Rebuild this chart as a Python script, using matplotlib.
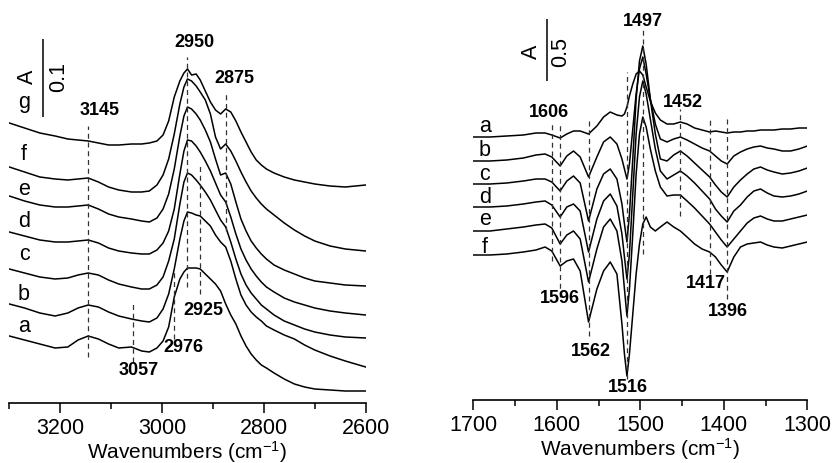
import numpy as np
import matplotlib.pyplot as plt

plt.rcParams['font.family'] = ['Liberation Sans', 'DejaVu Sans']
plt.rcParams['mathtext.default'] = 'regular'

# ---- left panel: C-H stretching region (offset absorbance, a.u.; 78 a.u. = 0.1 A)
wn_left = [3300, 3270, 3240, 3210, 3185, 3165, 3145, 3125, 3105, 3085, 3060, 3040, 3025,
           3010, 2998, 2987, 2976, 2965, 2957, 2950, 2942, 2933, 2925, 2915, 2905, 2895,
           2885, 2875, 2865, 2855, 2845, 2835, 2825, 2815, 2805, 2795, 2780, 2760, 2740,
           2720, 2700, 2670, 2640, 2600]
left_a = [67, 63, 59, 55, 56, 63, 67, 64, 59, 55, 56, 52, 51, 55, 62, 76, 106, 124, 131, 135,
          135, 135, 134, 129, 124, 119, 112, 99, 88, 79, 67, 57, 49, 43, 38, 35, 30, 24, 19,
          16, 14, 13, 12, 12]
left_b = [99, 95, 90, 87, 90, 95, 98, 96, 91, 87, 84, 82, 81, 85, 94, 109, 134, 164, 182, 191,
          190, 188, 187, 182, 177, 168, 161, 156, 142, 124, 108, 98, 91, 86, 82, 77, 73, 68,
          64, 58, 53, 47, 42, 36]
left_c = [134, 130, 126, 124, 125, 128, 130, 128, 123, 119, 116, 114, 114, 118, 126, 142, 164,
          199, 221, 230, 228, 223, 218, 211, 203, 193, 183, 176, 161, 144, 129, 118, 110, 104,
          98, 94, 88, 82, 78, 74, 71, 68, 66, 65]
left_d = [171, 167, 163, 161, 161, 162, 163, 160, 155, 152, 150, 149, 149, 153, 160, 172, 194,
          229, 252, 263, 262, 257, 251, 242, 232, 220, 208, 201, 186, 169, 154, 143, 134, 127,
          121, 116, 111, 105, 101, 98, 95, 92, 90, 88]
left_e = [207, 202, 198, 196, 196, 197, 198, 194, 189, 186, 184, 182, 181, 185, 194, 209, 234,
          267, 287, 296, 294, 289, 283, 273, 261, 244, 228, 230, 219, 201, 184, 172, 162, 155,
          149, 144, 138, 133, 129, 125, 122, 120, 118, 117]
left_f = [236, 231, 226, 224, 223, 224, 225, 221, 216, 213, 211, 211, 212, 218, 228, 244, 269,
          299, 316, 324, 322, 317, 311, 303, 289, 266, 254, 259, 252, 242, 231, 221, 212, 205,
          199, 194, 188, 180, 173, 167, 162, 157, 154, 152]
left_g = [280, 275, 270, 267, 264, 263, 262, 260, 258, 258, 259, 259, 260, 262, 268, 282, 306,
          322, 330, 334, 328, 329, 323, 312, 301, 293, 289, 294, 291, 282, 271, 261, 251, 243,
          238, 234, 230, 226, 223, 221, 219, 217, 216, 218]
left_names = ['a', 'b', 'c', 'd', 'e', 'f', 'g']
left_label_y = [72, 104, 144, 177, 209, 244, 296]

# marked bands: position, dashed line from/to, label position
left_bands = [3145, 2950, 2875, 2925, 2976, 3057]
left_band_lo = [46, 116, 172, 109, 64, 41]
left_band_hi = [277, 346, 309, 239, 134, 99]
left_text_x = [3122, 2937, 2857, 2918, 2959, 3045]
left_text_y = [294, 362, 326, 94, 57, 34]

# ---- right panel: ring / CH3 deformation region (62 a.u. = 0.5 A)
wn_right = [1700, 1680, 1660, 1640, 1625, 1614, 1606, 1596, 1588, 1580, 1572, 1562, 1552,
            1544, 1536, 1528, 1522, 1519, 1516, 1513, 1509, 1505, 1501, 1497, 1493, 1488,
            1482, 1476, 1468, 1460, 1452, 1444, 1435, 1426, 1417, 1410, 1403, 1396, 1388,
            1380, 1372, 1364, 1356, 1348, 1340, 1330, 1320, 1310, 1300]
right_a = [263, 263, 264, 265, 267, 267, 265, 262, 266, 269, 269, 266, 274, 283, 288, 285,
           284, 286, 293, 304, 316, 326, 329, 325, 313, 299, 287, 280, 276, 276, 278, 276,
           272, 270, 268, 269, 268, 267, 268, 268, 269, 269, 270, 270, 270, 271, 271, 272, 272]
right_b = [239, 239, 240, 242, 245, 246, 243, 234, 244, 249, 243, 223, 243, 258, 263, 256,
           241, 231, 221, 236, 271, 306, 331, 343, 326, 301, 276, 261, 258, 261, 263, 260,
           256, 252, 249, 244, 239, 236, 244, 248, 251, 253, 254, 252, 251, 249, 249, 251, 254]
right_c = [216, 216, 217, 219, 221, 221, 218, 209, 219, 224, 217, 179, 211, 226, 231, 221,
           196, 176, 158, 186, 241, 301, 339, 354, 336, 301, 266, 241, 239, 245, 249, 244,
           237, 230, 223, 215, 208, 203, 213, 220, 226, 231, 233, 230, 228, 226, 227, 229, 232]
right_d = [193, 193, 194, 196, 198, 199, 195, 183, 193, 196, 189, 148, 181, 199, 206, 194,
           166, 143, 121, 146, 206, 266, 303, 319, 306, 281, 251, 229, 221, 225, 229, 224,
           217, 209, 201, 191, 184, 178, 189, 195, 203, 209, 211, 207, 204, 203, 204, 206, 209]
right_e = [169, 169, 171, 173, 175, 176, 172, 156, 165, 169, 161, 118, 151, 173, 181, 169,
           139, 111, 84, 111, 166, 226, 266, 283, 273, 251, 229, 213, 204, 205, 205, 199,
           192, 184, 176, 168, 160, 153, 161, 169, 177, 182, 184, 181, 179, 179, 181, 183, 185]
right_f = [145, 145, 146, 148, 150, 153, 149, 134, 139, 141, 129, 78, 111, 129, 138, 126,
           76, 46, 24, 46, 86, 126, 156, 176, 183, 173, 169, 173, 178, 173, 169, 163,
           156, 151, 148, 143, 135, 128, 143, 153, 156, 157, 158, 155, 153, 152, 154, 156, 158]
right_names = ['a', 'b', 'c', 'd', 'e', 'f']
right_label_y = [269, 245, 221, 198, 176, 148]

right_bands = [1606, 1596, 1562, 1516, 1497, 1452, 1417, 1396]
right_band_lo = [139, 103, 64, 21, 146, 184, 126, 101]
right_band_hi = [276, 276, 281, 328, 371, 291, 283, 283]
right_text_x = [1610, 1596, 1559, 1515, 1497, 1449, 1422, 1395]
right_text_y = [288, 102, 49, 13, 379, 298, 117, 89]
right_text = ['1606', '1596', '1562', '1516', '1497', '1452', '1417', '1396']

fig = plt.figure(figsize=(8.33, 4.64), dpi=100)
ax1 = fig.add_axes([0.01116, 0.12931, 0.42785, 0.87069])
ax2 = fig.add_axes([0.56819, 0.13578, 0.40096, 0.86422])

dash = (0, (4, 3))


def style(ax, xlim, ylim, major, minor):
    ax.set_xlim(*xlim)
    ax.set_ylim(*ylim)
    for s in ['left', 'right', 'top']:
        ax.spines[s].set_visible(False)
    ax.spines['bottom'].set_linewidth(1.2)
    ax.set_yticks([])
    ax.set_xticks(major)
    ax.set_xticks(minor, minor=True)
    ax.tick_params(axis='x', which='major', length=7, width=1.1, labelsize=15.5, pad=3)
    ax.tick_params(axis='x', which='minor', length=4, width=1.1)
    ax.set_xlabel('Wavenumbers (cm$^{-1}$)', fontsize=15, labelpad=0)
    ax.patch.set_visible(False)


# left panel
for name, ys, ly in zip(left_names, [left_a, left_b, left_c, left_d, left_e, left_f, left_g],
                        left_label_y):
    ax1.plot(wn_left, ys, color='black', lw=1.1)
    ax1.text(3271, ly, name, fontsize=15.5, ha='center', va='baseline')
ax1.vlines(left_bands, left_band_lo, left_band_hi, colors='#333333', lw=0.9, linestyles=dash)
for b, tx, ty in zip(left_bands, left_text_x, left_text_y):
    ax1.text(tx, ty, str(b), fontsize=13, fontweight='bold', ha='center', va='center')
ax1.vlines(3234, 286, 364, colors='black', lw=1.1)
ax1.text(3265, 327, 'A', fontsize=15.5, rotation=90, ha='center', va='center')
ax1.text(3204, 327, '0.1', fontsize=15.5, rotation=90, ha='center', va='center')
style(ax1, (3300, 2600), (0, 404), [3200, 3000, 2800, 2600], [3300, 3100, 2900, 2700])

# right panel
for name, ys, ly in zip(right_names, [right_a, right_b, right_c, right_d, right_e, right_f],
                        right_label_y):
    ax2.plot(wn_right, ys, color='black', lw=1.1)
    ax2.text(1686, ly, name, fontsize=15.5, ha='center', va='baseline')
ax2.vlines(right_bands, right_band_lo, right_band_hi, colors='#333333', lw=0.9, linestyles=dash)
for t, tx, ty in zip(right_text, right_text_x, right_text_y):
    ax2.text(tx, ty, t, fontsize=13, fontweight='bold', ha='center', va='center')
ax2.vlines(1612, 319, 381, colors='black', lw=1.1)
ax2.text(1630, 349, 'A', fontsize=15.5, rotation=90, ha='center', va='center')
ax2.text(1596, 349, '0.5', fontsize=15.5, rotation=90, ha='center', va='center')
style(ax2, (1700, 1300), (0, 401), [1700, 1600, 1500, 1400, 1300], [1650, 1550, 1450, 1350])

fig.savefig('out.png', dpi=100)
